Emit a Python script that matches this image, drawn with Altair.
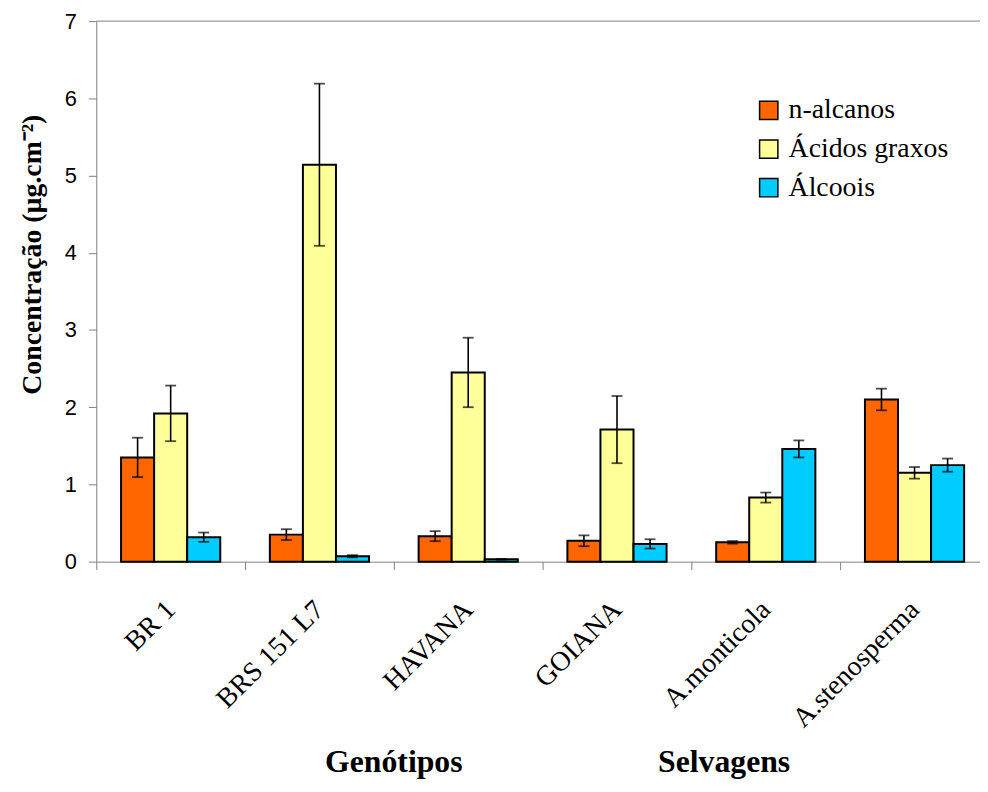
import altair as alt
import pandas as pd

categories = ["BR 1", "BRS 151 L7", "HAVANA", "GOIANA", "A.monticola", "A.stenosperma"]
series = ["n-alcanos", "Ácidos graxos", "Álcoois"]
colors = ["#FF6600", "#FFFF99", "#00CCFF"]

nalcanos = [1.35, 0.35, 0.33, 0.27, 0.25, 2.10]
nalcanos_err = [0.255, 0.07, 0.065, 0.07, 0.017, 0.14]
acidos = [1.92, 5.14, 2.45, 1.71, 0.83, 1.15]
acidos_err = [0.36, 1.05, 0.45, 0.435, 0.065, 0.075]
alcoois = [0.317, 0.07, 0.03, 0.23, 1.46, 1.25]
alcoois_err = [0.06, 0.015, 0.005, 0.06, 0.11, 0.085]

group_titles = ["Genótipos", "Selvagens"]

rows = []
for s, vals, errs in zip(series, [nalcanos, acidos, alcoois], [nalcanos_err, acidos_err, alcoois_err]):
    for c, v, e in zip(categories, vals, errs):
        rows.append({"cat": c, "series": s, "value": v, "lo": v - e, "hi": v + e})
df = pd.DataFrame(rows)

W, H = 891, 545

x_enc = alt.X(
    "cat:N",
    sort=categories,
    title=None,
    scale=alt.Scale(range=[0, 900], paddingInner=0, paddingOuter=0),
    axis=alt.Axis(
        labelAngle=-45,
        labelAlign="right",
        labelBaseline="middle",
        labelFont="Liberation Serif",
        labelFontSize=28,
        labelColor="black",
        labelPadding=36,
        tickBand="extent",
        tickSize=8,
        tickColor="#808080",
        domainColor="#808080",
        labelOverlap=False,
        labelLimit=400,
    ),
)
xoff_enc = alt.XOffset("series:N", sort=series, scale=alt.Scale(domain=series, paddingInner=0, paddingOuter=0.75))
y_scale = alt.Scale(domain=[0, 7], nice=False)

base = alt.Chart(df).encode(x=x_enc, xOffset=xoff_enc)

bars = base.mark_bar(stroke="black", strokeWidth=2).encode(
    y=alt.Y(
        "value:Q",
        scale=y_scale,
        title="Concentração (µg.cm⁻²)",
        axis=alt.Axis(
            values=[0, 1, 2, 3, 4, 5, 6, 7],
            format="d",
            grid=False,
            labelFont="Liberation Sans",
            labelFontSize=22,
            labelColor="black",
            labelPadding=12,
            tickSize=8,
            tickColor="#808080",
            domainColor="#808080",
            titleFont="Liberation Serif",
            titleFontSize=28,
            titleFontWeight="bold",
            titleColor="black",
            titleAngle=270,
            titleAlign="center",
            titleBaseline="middle",
            titleX=-64,
            titleY=235,
        ),
    ),
    color=alt.Color(
        "series:N",
        sort=series,
        scale=alt.Scale(domain=series, range=colors),
        legend=alt.Legend(
            title=None,
            orient="none",
            legendX=664,
            legendY=76,
            symbolType="square",
            symbolSize=340,
            symbolStrokeColor="black",
            symbolStrokeWidth=1.5,
            symbolOpacity=1,
            labelFont="Liberation Serif",
            labelFontSize=28,
            labelColor="black",
            labelOffset=6,
            rowPadding=11,
            labelLimit=400,
        ),
    ),
)

err_rule = base.mark_rule(color="black", strokeWidth=1.6).encode(
    y=alt.Y("lo:Q", scale=y_scale), y2="hi:Q"
)
cap_lo = base.mark_tick(color="black", thickness=1.8, size=11).encode(y=alt.Y("lo:Q", scale=y_scale))
cap_hi = base.mark_tick(color="black", thickness=1.8, size=11).encode(y=alt.Y("hi:Q", scale=y_scale))

top_line = alt.Chart(pd.DataFrame({"k": [0]})).mark_rule(color="#808080", strokeWidth=1).encode(
    x=alt.value(0), x2=alt.value(900), y=alt.value(0)
)

titles_df = pd.DataFrame({"t": group_titles, "px": [300, 633]})
group_text = alt.Chart(titles_df).mark_text(
    font="Liberation Serif", fontSize=32, fontWeight="bold", color="black", baseline="alphabetic", align="center"
).encode(text="t:N", x=alt.X("px:Q", scale=None), y=alt.value(757))

chart = (
    alt.layer(bars, err_rule, cap_lo, cap_hi, top_line, group_text)
    .resolve_scale(x="shared")
    .properties(
        width=W,
        height=H,
        autosize=alt.AutoSizeParams(type="none"),
        padding={"left": 89, "top": 10, "right": 0, "bottom": 225},
        background="white",
    )
    .configure_view(stroke=None)
)

chart.save("out.html", embed_options={"renderer": "svg", "actions": False})
